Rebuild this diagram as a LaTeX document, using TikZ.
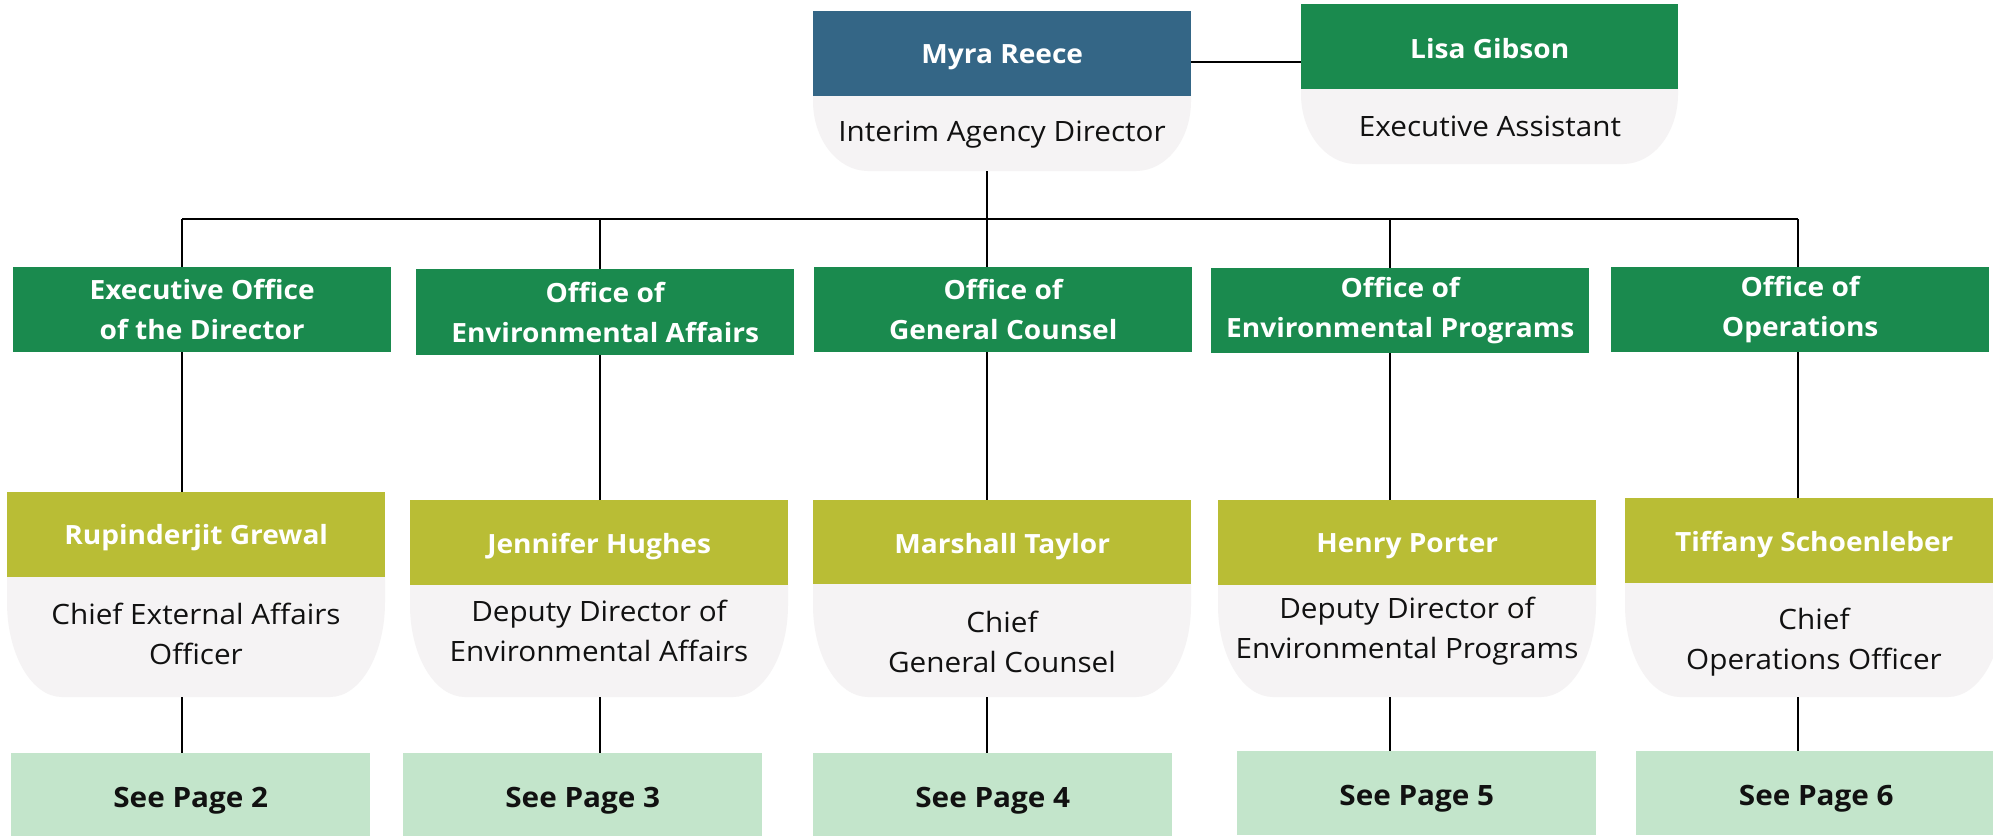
\documentclass[tikz,border=0pt]{standalone}
\usepackage{fontspec}
\setmainfont{Open Sans}[FakeStretch=1.06]
\definecolor{dirblue}{HTML}{346686}
\definecolor{offgreen}{HTML}{1A8A4E}
\definecolor{olive}{HTML}{B9BD35}
\definecolor{tabgray}{HTML}{F5F3F4}
\definecolor{pagegreen}{HTML}{C3E5CB}
\definecolor{ink}{HTML}{111111}
\newcommand\graytab[7]{%
  \fill[tabgray] (#2,#4) -- (#3,#4) -- (#3,#5-#7)
    .. controls (#3,#5-0.448*#7) and (#3-0.448*#6,#5) .. (#3-#6,#5)
    -- (#2+#6,#5)
    .. controls (#2+0.448*#6,#5) and (#2,#5-0.448*#7) .. (#2,#5-#7) -- cycle;
  \node[anchor=north west, inner sep=0pt, minimum width=#3pt-#2pt, minimum height=#5pt-#4pt] (#1) at (#2,#4) {};}
\newcommand\lowered[2]{\raisebox{-#1pt}[\height][\depth]{#2}}
\begin{document}
\begin{tikzpicture}[x=1pt,y=-1pt,
  hdr/.style={anchor=north west, inner sep=0pt, align=center, text=white,
    font=\fontsize{26.5}{40}\selectfont\bfseries, minimum width=378pt},
  bluebox/.style={hdr, fill=dirblue, minimum height=85pt},
  greenbox/.style={hdr, fill=offgreen, minimum height=85pt},
  olivebox/.style={hdr, fill=olive, minimum height=85pt},
  pagebox/.style={hdr, fill=pagegreen, text=ink, minimum width=359pt, minimum height=84pt,
    font=\fontsize{28}{40}\selectfont\bfseries},
  tabtext/.style={inner sep=0pt, align=center, text=ink, font=\fontsize{28}{39.5}\selectfont},
  conn/.style={draw=black, line width=2pt},
  busline/.style={draw=black, line width=2.5pt}]
\useasboundingbox (0,0) rectangle (1993,835);
\fill[white] (0,0) rectangle (1993,835);

% top level
\graytab{myratab}{813}{1191}{90}{171}{55}{70}
\node[bluebox] (myra) at (813,11) {\lowered{4}{Myra Reece}};
\node[tabtext] (myrat) at (1002,135) {Interim Agency Director};
\graytab{lisatab}{1301}{1678}{84}{164}{55}{70}
\node[greenbox, minimum width=377pt] (lisa) at (1301,4) {\lowered{1.5}{Lisa Gibson}};
\node[tabtext] (lisat) at (1490,126) {Executive Assistant};
\draw[conn] ([yshift=-8.5pt]myra.east) coordinate (mr) -- (mr -| lisa.west);

% bus
\coordinate (bus) at (987,219);
\coordinate (c1) at (182,219);
\coordinate (c2) at (600,219);
\coordinate (c3) at (987,219);
\coordinate (c4) at (1390,219);
\coordinate (c5) at (1798,219);
\draw[conn] (bus |- myratab.south) -- (bus);
\draw[busline] (c1) -- (c5);

% offices
\node[greenbox] (o1) at (13,267) {Executive Office\\of the Director};
\node[greenbox, minimum height=86pt] (o2) at (416,269) {Office of\\Environmental Affairs};
\node[greenbox] (o3) at (814,267) {Office of\\General Counsel};
\node[greenbox] (o4) at (1211,268) {Office of\\Environmental Programs};
\node[greenbox] (o5) at (1611,267) {Office of\\Operations};

% people
\graytab{g1}{7}{385}{570}{697}{55}{95}
\graytab{g2}{410}{788}{578}{697}{55}{92}
\graytab{g3}{813}{1191}{578}{697}{55}{92}
\graytab{g4}{1218}{1596}{578}{697}{55}{92}
\graytab{g5}{1625}{2003}{576}{697}{55}{92}
\node[olivebox] (p1) at (7,492) {\lowered{3}{Rupinderjit Grewal}};
\node[olivebox] (p2) at (410,500) {\lowered{4}{Jennifer Hughes}};
\node[olivebox, minimum height=84pt] (p3) at (813,500) {\lowered{4}{Marshall Taylor}};
\node[olivebox] (p4) at (1218,500) {\lowered{4}{Henry Porter}};
\node[olivebox] (p5) at (1625,498) {\lowered{4}{Tiffany Schoenleber}};
\node[tabtext] (t1) at (196,634) {Chief External Affairs\\Officer};
\node[tabtext] (t2) at (599,631) {Deputy Director of\\Environmental Affairs};
\node[tabtext] (t3) at (1002,642) {Chief\\General Counsel};
\node[tabtext] (t4) at (1407,631) {Deputy Director of\\Environmental Programs};
\node[tabtext] (t5) at (1814,642) {Chief\\Operations Officer};

% pages
\node[pagebox] (s1) at (11,753) {\lowered{6}{See Page 2}};
\node[pagebox] (s2) at (403,753) {\lowered{6}{See Page 3}};
\node[pagebox] (s3) at (813,753) {\lowered{6}{See Page 4}};
\node[pagebox] (s4) at (1237,751) {\lowered{6}{See Page 5}};
\node[pagebox, minimum width=360pt] (s5) at (1636,751) {\lowered{6}{See Page 6}};

% connectors
\foreach \i in {1,...,5}{
  \draw[conn] (c\i) -- (c\i |- o\i.north);
  \draw[conn] (c\i |- o\i.south) -- (c\i |- p\i.north);
  \draw[conn] (c\i |- g\i.south) -- (c\i |- s\i.north);
}
\end{tikzpicture}
\end{document}
